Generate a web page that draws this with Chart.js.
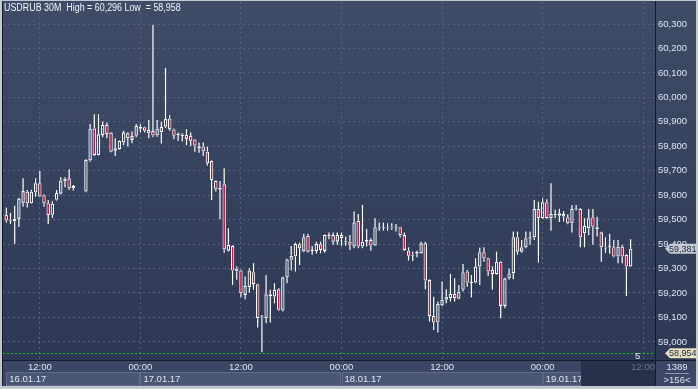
<!DOCTYPE html>
<html>
<head>
<meta charset="utf-8">
<script src="https://cdn.jsdelivr.net/npm/chart.js@4.4.1/dist/chart.umd.min.js"></script>
<style>
html, body { margin: 0; padding: 0; background: #c3c7cf; }
canvas { display: block; }
</style>
</head>
<body>
<canvas id="myChart" width="698" height="389"></canvas>
<script>
// USDRUB 30M candles, index -1 .. 149 (null = no bar)
var firstIdx = -1;
var openP = [59.519,
  59.519,59.495,59.493,59.503,59.567,59.614,59.567,59.612,59.649,59.600,
  59.567,59.520,59.581,59.606,59.657,59.669,59.628,null,null,59.615,
  59.742,59.873,59.764,59.846,59.887,59.856,59.782,59.788,59.815,59.853,
  59.826,59.843,59.872,59.878,59.853,59.862,59.844,59.858,59.880,59.914,
  59.869,59.845,59.842,59.846,59.842,59.828,59.791,59.799,59.778,59.740,
  59.658,59.622,59.645,59.373,59.392,59.300,59.292,59.192,59.224,59.285,
  59.236,59.100,59.097,59.186,59.186,59.215,59.128,59.264,59.336,59.350,
  59.399,59.370,59.434,59.372,59.372,59.399,59.372,59.432,59.437,59.410,
  59.437,59.410,59.410,59.390,59.495,59.390,59.410,59.417,59.394,59.466,
  59.469,59.467,59.468,59.466,59.469,59.437,59.373,59.352,59.360,59.362,
  59.403,59.253,59.106,59.079,59.149,59.172,59.179,59.196,59.176,59.213,
  59.288,59.241,59.243,59.308,59.367,59.342,59.294,59.277,59.328,59.147,
  59.260,59.281,59.428,59.369,59.387,59.422,59.428,59.544,59.506,59.571,
  59.506,59.519,59.526,59.523,59.510,59.485,59.543,59.544,59.444,59.465,
  59.510,59.469,59.448,59.386,59.388,59.387,59.349,59.390,59.356,59.308];
var highP = [59.530,
  59.550,59.527,59.557,59.590,59.669,59.621,59.622,59.669,59.699,59.603,
  59.580,59.575,59.621,59.673,59.673,59.706,59.642,null,null,59.747,
  59.891,59.931,59.931,59.901,59.897,59.858,59.833,59.824,59.863,59.857,
  59.860,59.891,59.890,59.880,59.907,60.296,59.907,59.900,60.121,59.928,
  59.873,59.856,59.853,59.870,59.856,59.830,59.815,59.815,59.799,59.742,
  59.660,59.658,59.710,59.465,59.395,59.308,59.296,59.267,59.301,59.322,
  59.238,59.110,59.274,59.213,59.240,59.219,59.266,59.340,59.392,59.406,
  59.406,59.442,59.442,59.392,59.410,59.410,59.440,59.447,59.447,59.447,
  59.447,59.431,59.437,59.533,59.523,59.560,59.462,59.424,59.506,59.488,
  59.488,59.485,59.485,59.482,59.470,59.447,59.387,59.369,59.373,59.410,
  59.410,59.256,59.185,59.165,59.247,59.215,59.278,59.260,59.233,59.319,
  59.294,59.274,59.342,59.386,59.387,59.344,59.308,59.369,59.330,59.262,
  59.299,59.451,59.451,59.417,59.451,59.451,59.580,59.574,59.587,59.583,
  59.649,59.540,59.545,59.535,59.522,59.560,59.560,59.547,59.506,59.544,
  59.544,59.512,59.450,59.428,59.442,59.417,59.417,59.397,59.358,59.420];
var lowP = [59.510,
  59.488,59.482,59.401,59.470,59.553,59.550,59.565,59.594,59.594,59.553,
  59.482,59.507,59.578,59.603,59.632,59.621,59.619,null,null,59.612,
  59.737,59.760,59.762,59.837,59.833,59.776,59.760,59.786,59.805,59.799,
  59.812,59.837,59.857,59.856,59.833,59.838,59.839,59.811,59.875,59.864,
  59.829,59.822,59.820,59.805,59.800,59.778,59.774,59.760,59.721,59.580,
  59.615,59.502,59.365,59.370,59.233,59.254,59.183,59.174,59.202,59.213,
  59.059,58.958,59.076,59.079,59.158,59.127,59.124,59.240,59.292,59.288,
  59.315,59.367,59.366,59.356,59.362,59.362,59.365,59.420,59.397,59.397,
  59.393,59.393,59.376,59.383,59.383,59.383,59.390,59.373,59.392,59.455,
  59.455,59.455,59.458,59.451,59.428,59.373,59.333,59.331,59.346,59.360,
  59.215,59.083,59.049,59.038,59.147,59.158,59.165,59.165,59.174,59.206,
  59.226,59.183,59.240,59.233,59.328,59.270,59.213,59.275,59.097,59.138,
  59.254,59.256,59.356,59.365,59.383,59.397,59.417,59.324,59.503,59.503,
  59.455,59.506,59.490,59.492,59.481,59.447,59.537,59.387,59.387,59.437,
  59.397,59.431,59.328,59.363,59.360,59.346,59.322,59.322,59.188,59.306];
var closeP = [59.522,
  59.496,59.499,59.503,59.586,59.617,59.567,59.614,59.649,59.595,59.567,
  59.519,59.565,59.609,59.660,59.668,59.628,59.638,null,null,59.744,
  59.873,59.764,59.849,59.887,59.850,59.778,59.792,59.822,59.857,59.833,
  59.842,59.883,59.880,59.864,59.867,59.844,59.873,59.879,59.912,59.869,
  59.843,59.852,59.848,59.829,59.823,59.803,59.800,59.779,59.730,59.662,
  59.624,59.631,59.379,59.397,59.292,59.289,59.199,59.229,59.292,59.237,
  59.097,59.105,59.195,59.195,59.213,59.131,59.264,59.338,59.352,59.401,
  59.383,59.428,59.369,59.376,59.401,59.376,59.438,59.437,59.410,59.437,
  59.424,59.414,59.397,59.489,59.390,59.410,59.417,59.394,59.469,59.469,
  59.466,59.469,59.465,59.469,59.437,59.376,59.352,59.356,59.368,59.403,
  59.251,59.106,59.079,59.155,59.172,59.185,59.196,59.179,59.206,59.285,
  59.243,59.245,59.308,59.367,59.342,59.288,59.278,59.328,59.147,59.260,
  59.281,59.428,59.369,59.387,59.424,59.428,59.544,59.506,59.571,59.506,
  59.523,59.523,59.516,59.513,59.485,59.544,59.547,59.428,59.474,59.506,
  59.471,59.461,59.387,59.389,59.392,59.349,59.390,59.349,59.308,59.381];

var yTicks = [59.0, 59.1, 59.2, 59.3, 59.4, 59.5, 59.6, 59.7, 59.8, 59.9, 60.0, 60.1, 60.2, 60.3];
var timeTickIdx = [8, 32, 56, 80, 104, 128, 152];
var timeTickLabels = ['12:00', '00:00', '12:00', '00:00', '12:00', '00:00', '12:00'];
var dayStartIdx = [0, 32, 80, 128];
var dayLabels = ['16.01.17', '17.01.17', '18.01.17', '19.01.17'];
var headerText = 'USDRUB 30M  High = 60,296 Low  = 58,958';
var lowLevel = 58.954;
var barsCount = 1389, visibleBars = 156;

var RED = '#e3123d';
var GRID = '#56627f';
var TXT = '#dde6f4';
var FONT = '"Liberation Sans", Arial, sans-serif';

function fmt(v) { return v.toFixed(3).replace('.', ','); }

// build candle pieces: wick below body, wick above body, body
var lowWick = [], highWick = [], bodies = [], bodyFill = [];
for (var i = 0; i < openP.length; i++) {
    if (openP[i] === null) continue;
    var xi = firstIdx + i;
    var bodyHi = Math.max(openP[i], closeP[i]);
    var bodyLo = Math.min(openP[i], closeP[i]);
    lowWick.push({x: xi, y: [lowP[i], bodyLo]});
    highWick.push({x: xi, y: [bodyHi, highP[i]]});
    bodies.push({x: xi, y: [openP[i], closeP[i]]});
    bodyFill.push(closeP[i] < openP[i] ? RED : 'rgba(0,0,0,0)');
}
var lastClose = closeP[closeP.length - 1];

var framePlugin = {
    id: 'frame',
    beforeDraw: function(chart) {
        var c = chart.ctx, a = chart.chartArea, W = chart.width, H = chart.height;
        var xs = chart.scales.x;
        c.save();
        c.fillStyle = '#c3c7cf';
        c.fillRect(0, 0, W, H);
        var g = c.createLinearGradient(0, a.top, 0, a.bottom);
        g.addColorStop(0, '#3f4c68');
        g.addColorStop(1, '#2c3854');
        c.fillStyle = g;
        c.fillRect(2, 1, W - 4, a.bottom - 1);
        // time axis strip
        c.fillStyle = '#3b4764';
        c.fillRect(2, a.bottom, W - 4, H - a.bottom - 3);
        // day boxes
        c.font = '9.5px ' + FONT;
        c.textBaseline = 'middle';
        for (var d = 0; d < dayStartIdx.length; d++) {
            var x0 = xs.getPixelForValue(dayStartIdx[d]);
            var x1 = d + 1 < dayStartIdx.length ? xs.getPixelForValue(dayStartIdx[d + 1]) : a.right;
            c.fillStyle = '#4a5774';
            c.fillRect(x0, a.bottom + 13, x1 - x0, 13);
            c.strokeStyle = '#5f6c89';
            c.lineWidth = 1;
            c.strokeRect(Math.round(x0) + 0.5, a.bottom + 12.5, x1 - x0 - 1, 13);
            c.fillStyle = TXT;
            c.textAlign = 'left';
            c.fillText(dayLabels[d], x0 + 3, a.bottom + 19.5);
        }
        // dark future part of time axis
        c.fillStyle = '#27314b';
        c.fillRect(581, a.bottom, a.right - 581, H - a.bottom - 3);
        // bottom right corner box
        c.fillStyle = '#3b4764';
        c.fillRect(a.right, a.bottom, W - a.right - 2, H - a.bottom - 3);
        c.fillStyle = TXT;
        c.textAlign = 'center';
        c.fillText(String(barsCount), 677, a.bottom + 7);
        c.fillText('>' + visibleBars + '<', 677, a.bottom + 20);
        c.strokeStyle = '#8c97ad';
        c.beginPath();
        c.moveTo(665, a.bottom + 13.5);
        c.lineTo(689, a.bottom + 13.5);
        c.stroke();
        c.restore();
    },
    afterDraw: function(chart) {
        var c = chart.ctx, a = chart.chartArea, W = chart.width, H = chart.height;
        var ys = chart.scales.y;
        c.save();
        // separators
        c.strokeStyle = '#151b2b';
        c.lineWidth = 1;
        c.beginPath();
        c.moveTo(2.5, 1); c.lineTo(2.5, H - 3);
        c.moveTo(a.right + 0.5, 1); c.lineTo(a.right + 0.5, H - 3);
        c.moveTo(2, a.bottom + 0.5); c.lineTo(W - 2, a.bottom + 0.5);
        c.stroke();
        // low level line
        var yl = Math.round(ys.getPixelForValue(lowLevel)) + 0.5;
        c.strokeStyle = '#10d010';
        c.setLineDash([2, 2]);
        c.beginPath();
        c.moveTo(a.left, yl); c.lineTo(a.right, yl);
        c.stroke();
        c.setLineDash([]);
        c.font = '9.5px ' + FONT;
        c.textBaseline = 'middle';
        c.fillStyle = '#e8eef8';
        c.textAlign = 'left';
        c.fillText('5', 635, yl + 3);
        // header, slightly condensed like the terminal font
        c.save();
        c.translate(4, 8);
        c.scale(0.89, 1);
        c.font = '10px ' + FONT;
        c.fillStyle = '#f2f4f8';
        c.fillText(headerText, 0, 0);
        c.restore();
        // price tags
        function tag(v, bg) {
            var y = ys.getPixelForValue(v);
            c.fillStyle = bg;
            c.beginPath();
            c.moveTo(665, y);
            c.lineTo(670, y - 5);
            c.lineTo(697, y - 5);
            c.lineTo(697, y + 5);
            c.lineTo(670, y + 5);
            c.closePath();
            c.fill();
            c.fillStyle = '#1c2340';
            c.font = '9px ' + FONT;
            c.textAlign = 'left';
            c.fillText(fmt(v), 669, y + 0.5);
        }
        tag(lastClose, '#c6cad3');
        tag(lowLevel, '#e4e0c2');
        c.restore();
    }
};

var ctx = document.getElementById('myChart').getContext('2d');
var myChart = new Chart(ctx, {
    type: 'bar',
    data: {
        datasets: [{
            data: lowWick,
            backgroundColor: '#ffffff',
            barThickness: 1.2,
            grouped: false,
            inflateAmount: 0,
            borderWidth: 0
        }, {
            data: highWick,
            backgroundColor: '#ffffff',
            barThickness: 1.2,
            grouped: false,
            inflateAmount: 0,
            borderWidth: 0
        }, {
            data: bodies,
            backgroundColor: bodyFill,
            borderColor: '#ffffff',
            borderWidth: 1.1,
            borderSkipped: false,
            barThickness: 3.4,
            grouped: false,
            inflateAmount: 0
        }]
    },
    options: {
        responsive: false,
        animation: false,
        devicePixelRatio: 1,
        layout: { padding: { left: 3, top: 2, right: 0, bottom: 0 } },
        plugins: { legend: { display: false }, tooltip: { enabled: false } },
        scales: {
            x: {
                type: 'linear',
                offset: false,
                min: -0.79,
                max: 154.82,
                afterBuildTicks: function(s) { s.ticks = timeTickIdx.map(function(v) { return {value: v}; }); },
                afterFit: function(s) { s.height = 29; s.paddingLeft = 0; s.paddingRight = 0; },
                grid: { color: GRID, drawTicks: false, offset: false },
                border: { display: false, dash: [2, 3] },
                ticks: {
                    autoSkip: false,
                    maxRotation: 0,
                    padding: 2,
                    font: { family: FONT, size: 9.5 },
                    color: function(ctx) { return ctx.index === timeTickIdx.length - 1 ? '#6b7690' : TXT; },
                    callback: function(v) { return timeTickLabels[timeTickIdx.indexOf(v)]; }
                }
            },
            y: {
                position: 'right',
                min: 58.926,
                max: 60.390,
                afterBuildTicks: function(s) { s.ticks = yTicks.map(function(v) { return {value: v}; }); },
                afterFit: function(s) { s.width = 43; s.paddingTop = 0; s.paddingBottom = 0; },
                grid: { color: GRID, drawTicks: false },
                border: { display: false, dash: [2, 3] },
                ticks: {
                    padding: 3,
                    font: { family: FONT, size: 9.5 },
                    color: TXT,
                    callback: function(v) { return fmt(v); }
                }
            }
        }
    },
    plugins: [framePlugin]
});
</script>
</body>
</html>
